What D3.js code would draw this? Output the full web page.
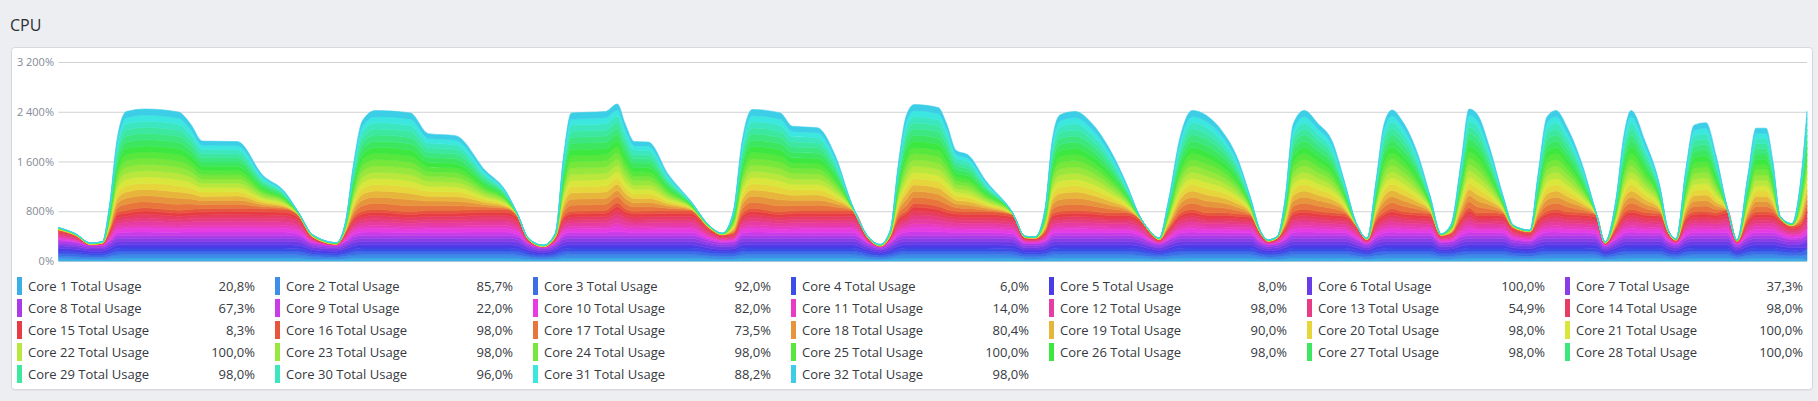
<!DOCTYPE html>
<html>
<head>
<meta charset="utf-8">
<script src="https://cdn.jsdelivr.net/npm/d3@7"></script>
<style>
html, body { margin: 0; padding: 0; background: #edeef1; }
svg { display: block; font-family: "Open Sans", "Noto Sans", sans-serif; }
</style>
</head>
<body>
<svg id="cpu-svg"></svg>
<script>
// sample times (seconds from start of window)
const times = [0,17,32,44,51,59,68,87,120,132,144,179,204,226,240,254,278,287,295,304,317,352,370,397,427,447,459,470,485,497,505,513,547,559,567,576,590,610,632,652,664,675,684,694,722,734,759,777,794,810,822,832,840,848,856,880,888,898,910,927,954,967,977,987,994,1002,1017,1034,1052,1068,1082,1094,1101,1110,1122,1134,1148,1164,1178,1192,1202,1210,1219,1227,1235,1246,1260,1274,1286,1298,1309,1318,1326,1334,1344,1360,1372,1383,1393,1403,1411,1419,1432,1445,1455,1472,1480,1489,1498,1509,1525,1538,1547,1558,1566,1573,1587,1602,1610,1618,1628,1636,1648,1658,1669,1679,1690,1698,1708,1715,1722,1734,1742,1749];

// usage per core, in percent
const core1 = [36,33,27,27,35,47,48,48,48,48,48,48,48,48,46,32,27,34,44,48,48,48,48,48,48,48,45,30,23,31,45,48,48,48,48,48,48,48,48,37,33,34,47,48,48,48,48,48,48,31,24,32,44,48,48,48,48,48,48,48,46,31,31,35,46,48,48,48,48,48,43,33,30,37,47,48,48,48,48,48,34,29,31,38,48,48,48,48,48,39,30,42,47,48,48,48,48,33,34,44,48,48,48,48,38,35,43,48,48,48,48,46,27,38,47,48,48,48,35,30,44,48,48,48,48,29,43,48,48,48,44,39,40,20.8];
const core2 = [43,40,34,34,42,54,55,55,55,55,55,55,55,55,53,39,34,41,51,55,55,55,55,55,55,55,52,37,30,38,52,55,55,55,55,55,55,55,55,44,40,41,54,55,55,55,55,55,55,38,31,39,51,55,55,55,55,55,55,55,53,38,38,42,53,55,55,55,55,55,50,40,37,44,54,55,55,55,55,55,41,36,38,45,55,55,55,55,55,46,37,49,54,55,55,55,55,40,41,51,55,55,55,55,45,42,50,55,55,55,55,53,34,45,54,55,55,55,42,37,51,55,55,55,55,36,50,55,55,55,51,46,47,85.7];
const core3 = [45,42,36,36,44,56,57,57,57,57,57,57,57,57,55,41,36,43,53,57,57,57,57,57,57,57,54,39,32,40,54,57,57,57,57,57,57,57,57,46,42,43,56,57,57,57,57,57,57,40,33,41,53,57,57,57,57,57,57,57,55,40,40,44,55,57,57,57,57,57,52,42,39,46,56,57,57,57,57,57,43,38,40,47,57,57,57,57,57,48,39,51,56,57,57,57,57,42,43,53,57,57,57,57,47,44,52,57,57,57,57,55,36,47,56,57,57,57,44,39,53,57,57,57,57,38,52,57,57,57,53,48,49,92];
const core4 = [38,35,29,29,37,49,50,50,50,50,50,50,50,50,48,34,29,36,46,50,50,50,50,50,50,50,47,32,25,33,47,50,50,50,50,50,50,50,50,39,35,36,49,50,50,50,50,50,50,33,26,34,46,50,50,50,50,50,50,50,48,33,33,37,48,50,50,50,50,50,45,35,32,39,49,50,50,50,50,50,36,31,33,40,50,50,50,50,50,41,32,44,49,50,50,50,50,35,36,46,50,50,50,50,40,37,45,50,50,50,50,48,29,40,49,50,50,50,37,32,46,50,50,50,50,31,45,50,50,50,46,41,42,6];
const core5 = [40,37,31,31,39,51,52,52,52,52,52,52,52,52,50,36,31,38,48,52,52,52,52,52,52,52,49,34,27,35,49,52,52,52,52,52,52,52,52,41,37,38,51,52,52,52,52,52,52,35,28,36,48,52,52,52,52,52,52,52,50,35,35,39,50,52,52,52,52,52,47,37,34,41,51,52,52,52,52,52,38,33,35,42,52,52,52,52,52,43,34,46,51,52,52,52,52,37,38,48,52,52,52,52,42,39,47,52,52,52,52,50,31,42,51,52,52,52,39,34,48,52,52,52,52,33,47,52,52,52,48,43,44,8];
const core6 = [44,41,35,35,43,55,56,56,56,56,56,56,56,56,54,40,35,42,52,56,56,56,56,56,56,56,53,38,31,39,53,56,56,56,56,56,56,56,56,45,41,42,55,56,56,56,56,56,56,39,32,40,52,56,56,56,56,56,56,56,54,39,39,43,54,56,56,56,56,56,51,41,38,45,55,56,56,56,56,56,42,37,39,46,56,56,56,56,56,47,38,50,55,56,56,56,56,41,42,52,56,56,56,56,46,43,51,56,56,56,56,54,35,46,55,56,56,56,43,38,52,56,56,56,56,37,51,56,56,56,52,47,48,100];
const core7 = [37,34,28,28,36,48,49,49,49,49,49,49,49,49,47,33,28,35,45,49,49,49,49,49,49,49,46,31,24,32,46,49,49,49,49,49,49,49,49,38,34,35,48,49,49,49,49,49,49,32,25,33,45,49,49,49,49,49,49,49,47,32,32,36,47,49,49,49,49,49,44,34,31,38,48,49,49,49,49,49,35,30,32,39,49,49,49,49,49,40,31,43,48,49,49,49,49,34,35,45,49,49,49,49,39,36,44,49,49,49,49,47,28,39,48,49,49,49,36,31,45,49,49,49,49,30,44,49,49,49,45,40,41,37.3];
const core8 = [37,34,28,28,36,48,49,49,49,49,49,49,49,49,47,33,28,35,45,49,49,49,49,49,49,49,46,31,24,32,46,49,49,49,49,49,49,49,49,38,34,35,48,49,49,49,49,49,49,32,25,33,45,49,49,49,49,49,49,49,47,32,32,36,47,49,49,49,49,49,44,34,31,38,48,49,49,49,49,49,35,30,32,39,49,49,49,49,49,40,31,43,48,49,49,49,49,34,35,45,49,49,49,49,39,36,44,49,49,49,49,47,28,39,48,49,49,49,36,31,45,49,49,49,49,30,44,49,49,49,45,40,41,67.3];
const core9 = [20,12,0,2,18,44,47,52,47,49,50,51,50,49,39,10,0,17,37,45,49,44,47,47,49,49,39,6,0,10,38,45,47,62,50,45,46,47,47,21,13,15,42,51,44,46,47,47,47,8,0,11,37,45,61,55,49,45,44,44,41,9,8,18,42,45,47,45,42,42,34,13,6,21,42,49,42,42,40,37,16,4,8,23,44,49,45,42,40,26,6,34,44,50,45,42,40,12,15,37,52,42,42,40,23,17,35,45,49,44,42,40,2,23,43,49,42,40,17,5,37,44,45,42,48,4,35,44,44,42,35,25,28,22];
const core10 = [27,19,6,9,25,51,54,59,54,56,57,58,57,56,46,17,7,24,44,52,56,51,54,54,56,56,46,13,5,17,45,52,54,69,57,52,53,54,54,28,20,22,49,58,51,53,54,54,54,15,6,18,44,52,68,62,56,52,51,51,48,16,15,25,49,52,54,52,49,49,41,20,13,28,49,56,49,49,47,44,23,11,15,30,51,56,52,49,47,33,13,41,51,57,52,49,47,19,22,44,59,49,49,47,30,24,42,52,56,51,49,47,9,30,50,56,49,47,24,12,44,51,52,49,55,11,42,51,51,49,42,32,35,82];
const core11 = [19,11,0,1,17,43,46,51,46,48,49,50,49,48,38,9,0,16,36,44,48,43,46,46,48,48,38,5,0,9,37,44,46,61,49,44,45,46,46,20,12,14,41,50,43,45,46,46,46,7,0,10,36,44,60,54,48,44,43,43,40,8,7,17,41,44,46,44,41,41,33,12,5,20,41,48,41,41,39,36,15,3,7,22,43,48,44,41,39,25,5,33,43,49,44,41,39,11,14,36,51,41,41,39,22,16,34,44,48,43,41,39,1,22,42,48,41,39,16,4,36,43,44,41,47,3,34,43,43,41,34,24,27,14];
const core12 = [28,20,7,10,26,52,55,60,55,57,58,59,58,57,47,18,8,25,45,53,57,52,55,55,57,57,47,14,6,18,46,53,55,70,58,53,54,55,55,29,21,23,50,59,52,54,55,55,55,16,7,19,45,53,69,63,57,53,52,52,49,17,16,26,50,53,55,53,50,50,42,21,14,29,50,57,50,50,48,45,24,12,16,31,52,57,53,50,48,34,14,42,52,58,53,50,48,20,23,45,60,50,50,48,31,25,43,53,57,52,50,48,10,31,51,57,50,48,25,13,45,52,53,50,56,12,43,52,52,50,43,33,36,98];
const core13 = [23,15,2,5,21,47,50,55,50,52,53,54,53,52,42,13,3,20,40,48,52,47,50,50,52,52,42,9,1,13,41,48,50,65,53,48,49,50,50,24,16,18,45,54,47,49,50,50,50,11,2,14,40,48,64,58,52,48,47,47,44,12,11,21,45,48,50,48,45,45,37,16,9,24,45,52,45,45,43,40,19,7,11,26,47,52,48,45,43,29,9,37,47,53,48,45,43,15,18,40,55,45,45,43,26,20,38,48,52,47,45,43,5,26,46,52,45,43,20,8,40,47,48,45,51,7,38,47,47,45,38,28,31,54.9];
const core14 = [26,18,5,8,24,50,53,58,53,55,56,57,56,55,45,16,6,23,43,51,55,50,53,53,55,55,45,12,4,16,44,51,53,68,56,51,52,53,53,27,19,21,48,57,50,52,53,53,53,14,5,17,43,51,67,61,55,51,50,50,47,15,14,24,48,51,53,51,48,48,40,19,12,27,48,55,48,48,46,43,22,10,14,29,50,55,51,48,46,32,12,40,50,56,51,48,46,18,21,43,58,48,48,46,29,23,41,51,55,50,48,46,8,29,49,55,48,46,23,11,43,50,51,48,54,10,41,50,50,48,41,31,34,98];
const core15 = [21,13,0,3,19,45,48,53,48,50,51,52,51,50,40,11,1,18,38,46,50,45,48,48,50,50,40,7,0,11,39,46,48,63,51,46,47,48,48,22,14,16,43,52,45,47,48,48,48,9,0,12,38,46,62,56,50,46,45,45,42,10,9,19,43,46,48,46,43,43,35,14,7,22,43,50,43,43,41,38,17,5,9,24,45,50,46,43,41,27,7,35,45,51,46,43,41,13,16,38,53,43,43,41,24,18,36,46,50,45,43,41,3,24,44,50,43,41,18,6,38,45,46,43,49,5,36,45,45,43,36,26,29,8.3];
const core16 = [20,12,0,2,18,44,47,52,47,49,50,51,50,49,39,10,0,17,37,45,49,44,47,47,49,49,39,6,0,10,38,45,47,62,50,45,46,47,47,21,13,15,42,51,44,46,47,47,47,8,0,11,37,45,61,55,49,45,44,44,41,9,8,18,42,45,47,45,42,42,34,13,6,21,42,49,42,42,40,37,16,4,8,23,44,49,45,42,40,26,6,34,44,50,45,42,40,12,15,37,52,42,42,40,23,17,35,45,49,44,42,40,2,23,43,49,42,40,17,5,37,44,45,42,48,4,35,44,44,42,35,25,28,98];
const core17 = [0,0,0,0,23,73,97,97,96,83,65,64,31,15,0,0,0,7,50,88,97,97,74,72,36,16,0,0,0,1,56,96,97,97,82,67,66,33,7,0,0,19,71,97,97,82,80,52,2,0,0,3,50,93,97,97,84,58,54,29,0,0,0,21,71,94,97,85,60,27,0,0,0,24,74,97,95,79,56,16,0,0,0,26,85,97,85,69,31,0,0,37,86,97,88,55,15,0,6,53,97,97,61,15,0,0,42,92,97,82,43,0,0,26,76,97,69,24,0,0,47,84,86,55,0,0,42,81,81,48,0,0,35,73.5];
const core18 = [0,0,0,0,24,74,98,98,97,84,66,65,32,16,1,0,0,8,51,89,98,98,75,73,37,17,0,0,0,2,57,97,98,98,83,68,67,34,8,0,0,20,72,98,98,83,81,53,3,0,0,4,51,94,98,98,85,59,55,30,0,0,0,22,72,95,98,86,61,28,0,0,0,25,75,98,96,80,57,17,0,0,0,27,86,98,86,70,32,0,0,38,87,98,89,56,16,0,7,54,98,98,62,16,0,0,43,93,98,83,44,0,0,27,77,98,70,25,0,0,48,85,87,56,1,0,43,82,82,49,0,0,36,80.4];
const core19 = [2,1,1,1,26,76,100,100,99,86,68,67,34,18,3,2,1,10,53,91,100,100,77,75,39,19,2,1,1,4,59,99,100,100,85,70,69,36,10,2,1,22,74,100,100,85,83,55,5,1,1,6,53,96,100,100,87,61,57,32,2,1,1,24,74,97,100,88,63,30,2,1,1,27,77,100,98,82,59,19,2,1,1,29,88,100,88,72,34,2,1,40,89,100,91,58,18,1,9,56,100,100,64,18,2,1,45,95,100,85,46,2,1,29,79,100,72,27,2,1,50,87,89,58,3,1,45,84,84,51,2,2,38,90];
const core20 = [4,3,3,3,28,78,100,100,100,88,70,69,36,20,5,4,3,12,55,93,100,100,79,77,41,21,4,3,3,6,61,100,100,100,87,72,71,38,12,4,3,24,76,100,100,87,85,57,7,3,3,8,55,98,100,100,89,63,59,34,4,3,3,26,76,99,100,90,65,32,4,3,3,29,79,100,100,84,61,21,4,3,3,31,90,100,90,74,36,4,3,42,91,100,93,60,20,3,11,58,100,100,66,20,4,3,47,97,100,87,48,4,3,31,81,100,74,29,4,3,52,89,91,60,5,3,47,86,86,53,4,4,40,98];
const core21 = [5,4,4,4,29,79,100,100,100,89,71,70,37,21,6,5,4,13,56,94,100,100,80,78,42,22,5,4,4,7,62,100,100,100,88,73,72,39,13,5,4,25,77,100,100,88,86,58,8,4,4,9,56,99,100,100,90,64,60,35,5,4,4,27,77,100,100,91,66,33,5,4,4,30,80,100,100,85,62,22,5,4,4,32,91,100,91,75,37,5,4,43,92,100,94,61,21,4,12,59,100,100,67,21,5,4,48,98,100,88,49,5,4,32,82,100,75,30,5,4,53,90,92,61,6,4,48,87,87,54,5,5,41,100];
const core22 = [3,2,2,2,27,77,100,100,100,87,69,68,35,19,4,3,2,11,54,92,100,100,78,76,40,20,3,2,2,5,60,100,100,100,86,71,70,37,11,3,2,23,75,100,100,86,84,56,6,2,2,7,54,97,100,100,88,62,58,33,3,2,2,25,75,98,100,89,64,31,3,2,2,28,78,100,99,83,60,20,3,2,2,30,89,100,89,73,35,3,2,41,90,100,92,59,19,2,10,57,100,100,65,19,3,2,46,96,100,86,47,3,2,30,80,100,73,28,3,2,51,88,90,59,4,2,46,85,85,52,3,3,39,100];
const core23 = [4,3,3,3,28,78,100,100,100,88,70,69,36,20,5,4,3,12,55,93,100,100,79,77,41,21,4,3,3,6,61,100,100,100,87,72,71,38,12,4,3,24,76,100,100,87,85,57,7,3,3,8,55,98,100,100,89,63,59,34,4,3,3,26,76,99,100,90,65,32,4,3,3,29,79,100,100,84,61,21,4,3,3,31,90,100,90,74,36,4,3,42,91,100,93,60,20,3,11,58,100,100,66,20,4,3,47,97,100,87,48,4,3,31,81,100,74,29,4,3,52,89,91,60,5,3,47,86,86,53,4,4,40,98];
const core24 = [2,1,1,1,26,76,100,100,99,86,68,67,34,18,3,2,1,10,53,91,100,100,77,75,39,19,2,1,1,4,59,99,100,100,85,70,69,36,10,2,1,22,74,100,100,85,83,55,5,1,1,6,53,96,100,100,87,61,57,32,2,1,1,24,74,97,100,88,63,30,2,1,1,27,77,100,98,82,59,19,2,1,1,29,88,100,88,72,34,2,1,40,89,100,91,58,18,1,9,56,100,100,64,18,2,1,45,95,100,85,46,2,1,29,79,100,72,27,2,1,50,87,89,58,3,1,45,84,84,51,2,2,38,98];
const core25 = [3,2,2,2,27,77,100,100,100,87,69,68,35,19,4,3,2,11,54,92,100,100,78,76,40,20,3,2,2,5,60,100,100,100,86,71,70,37,11,3,2,23,75,100,100,86,84,56,6,2,2,7,54,97,100,100,88,62,58,33,3,2,2,25,75,98,100,89,64,31,3,2,2,28,78,100,99,83,60,20,3,2,2,30,89,100,89,73,35,3,2,41,90,100,92,59,19,2,10,57,100,100,65,19,3,2,46,96,100,86,47,3,2,30,80,100,73,28,3,2,51,88,90,59,4,2,46,85,85,52,3,3,39,100];
const core26 = [1,0,0,0,25,75,99,99,98,85,67,66,33,17,2,1,0,9,52,90,99,99,76,74,38,18,1,0,0,3,58,98,99,99,84,69,68,35,9,1,0,21,73,99,99,84,82,54,4,0,0,5,52,95,99,99,86,60,56,31,1,0,0,23,73,96,99,87,62,29,1,0,0,26,76,99,97,81,58,18,1,0,0,28,87,99,87,71,33,1,0,39,88,99,90,57,17,0,8,55,99,99,63,17,1,0,44,94,99,84,45,1,0,28,78,99,71,26,1,0,49,86,88,57,2,0,44,83,83,50,1,1,37,98];
const core27 = [4,3,3,3,28,78,100,100,100,88,70,69,36,20,5,4,3,12,55,93,100,100,79,77,41,21,4,3,3,6,61,100,100,100,87,72,71,38,12,4,3,24,76,100,100,87,85,57,7,3,3,8,55,98,100,100,89,63,59,34,4,3,3,26,76,99,100,90,65,32,4,3,3,29,79,100,100,84,61,21,4,3,3,31,90,100,90,74,36,4,3,42,91,100,93,60,20,3,11,58,100,100,66,20,4,3,47,97,100,87,48,4,3,31,81,100,74,29,4,3,52,89,91,60,5,3,47,86,86,53,4,4,40,98];
const core28 = [2,1,1,1,26,76,100,100,99,86,68,67,34,18,3,2,1,10,53,91,100,100,77,75,39,19,2,1,1,4,59,99,100,100,85,70,69,36,10,2,1,22,74,100,100,85,83,55,5,1,1,6,53,96,100,100,87,61,57,32,2,1,1,24,74,97,100,88,63,30,2,1,1,27,77,100,98,82,59,19,2,1,1,29,88,100,88,72,34,2,1,40,89,100,91,58,18,1,9,56,100,100,64,18,2,1,45,95,100,85,46,2,1,29,79,100,72,27,2,1,50,87,89,58,3,1,45,84,84,51,2,2,38,100];
const core29 = [0,0,0,0,24,74,98,98,97,84,66,65,32,16,1,0,0,8,51,89,98,98,75,73,37,17,0,0,0,2,57,97,98,98,83,68,67,34,8,0,0,20,72,98,98,83,81,53,3,0,0,4,51,94,98,98,85,59,55,30,0,0,0,22,72,95,98,86,61,28,0,0,0,25,75,98,96,80,57,17,0,0,0,27,86,98,86,70,32,0,0,38,87,98,89,56,16,0,7,54,98,98,62,16,0,0,43,93,98,83,44,0,0,27,77,98,70,25,0,0,48,85,87,56,1,0,43,82,82,49,0,0,36,98];
const core30 = [3,2,2,2,27,77,100,100,100,87,69,68,35,19,4,3,2,11,54,92,100,100,78,76,40,20,3,2,2,5,60,100,100,100,86,71,70,37,11,3,2,23,75,100,100,86,84,56,6,2,2,7,54,97,100,100,88,62,58,33,3,2,2,25,75,98,100,89,64,31,3,2,2,28,78,100,99,83,60,20,3,2,2,30,89,100,89,73,35,3,2,41,90,100,92,59,19,2,10,57,100,100,65,19,3,2,46,96,100,86,47,3,2,30,80,100,73,28,3,2,51,88,90,59,4,2,46,85,85,52,3,3,39,96];
const core31 = [0,0,0,0,23,73,97,97,96,83,65,64,31,15,0,0,0,7,50,88,97,97,74,72,36,16,0,0,0,1,56,96,97,97,82,67,66,33,7,0,0,19,71,97,97,82,80,52,2,0,0,3,50,93,97,97,84,58,54,29,0,0,0,21,71,94,97,85,60,27,0,0,0,24,74,97,95,79,56,16,0,0,0,26,85,97,85,69,31,0,0,37,86,97,88,55,15,0,6,53,97,97,61,15,0,0,42,92,97,82,43,0,0,26,76,97,69,24,0,0,47,84,86,55,0,0,42,81,81,48,0,0,35,88.2];
const core32 = [1,0,0,0,25,75,99,99,98,85,67,66,33,17,2,1,0,9,52,90,99,99,76,74,38,18,1,0,0,3,58,98,99,99,84,69,68,35,9,1,0,21,73,99,99,84,82,54,4,0,0,5,52,95,99,99,86,60,56,31,1,0,0,23,73,96,99,87,62,29,1,0,0,26,76,99,97,81,58,18,1,0,0,28,87,99,87,71,33,1,0,39,88,99,90,57,17,0,8,55,99,99,63,17,1,0,44,94,99,84,45,1,0,28,78,99,71,26,1,0,49,86,88,57,2,0,44,83,83,50,1,1,37,98];

const coreNames = ["Core 1 Total Usage","Core 2 Total Usage","Core 3 Total Usage","Core 4 Total Usage","Core 5 Total Usage","Core 6 Total Usage","Core 7 Total Usage","Core 8 Total Usage","Core 9 Total Usage","Core 10 Total Usage","Core 11 Total Usage","Core 12 Total Usage","Core 13 Total Usage","Core 14 Total Usage","Core 15 Total Usage","Core 16 Total Usage","Core 17 Total Usage","Core 18 Total Usage","Core 19 Total Usage","Core 20 Total Usage","Core 21 Total Usage","Core 22 Total Usage","Core 23 Total Usage","Core 24 Total Usage","Core 25 Total Usage","Core 26 Total Usage","Core 27 Total Usage","Core 28 Total Usage","Core 29 Total Usage","Core 30 Total Usage","Core 31 Total Usage","Core 32 Total Usage"];

const yTicks = [0, 800, 1600, 2400, 3200];

const series = [core1,core2,core3,core4,core5,core6,core7,core8,core9,core10,core11,core12,core13,core14,core15,core16,
                core17,core18,core19,core20,core21,core22,core23,core24,core25,core26,core27,core28,core29,core30,core31,core32];

series.forEach((s, i) => {
    if (s.length !== times.length) throw new Error("core" + (i + 1) + " has " + s.length + " values, expected " + times.length);
});

const width = 1818, height = 401;
const plot = { left: 58.5, right: 1807, top: 62, bottom: 261 };

const svg = d3.select("#cpu-svg")
    .attr("width", width)
    .attr("height", height);

// panel title
svg.append("text")
    .attr("x", 10)
    .attr("y", 31)
    .attr("fill", "#2c2f34")
    .style("font-size", "16px")
    .text("CPU");

// card
svg.append("rect")
    .attr("x", 11.5).attr("y", 48.5)
    .attr("width", 1801).attr("height", 342)
    .attr("rx", 3)
    .attr("fill", "#d9dbde");
svg.append("rect")
    .attr("x", 11.5).attr("y", 47.5)
    .attr("width", 1801).attr("height", 342)
    .attr("rx", 3)
    .attr("fill", "#fff")
    .attr("stroke", "#d6d8db");

const locale = d3.formatLocale({ decimal: ",", thousands: " ", grouping: [3], currency: ["", ""] });
const tickFmt = locale.format(",");
const valFmt = locale.format(".1f");

const x = d3.scaleLinear()
    .domain(d3.extent(times))
    .range([plot.left, plot.right]);

const y = d3.scaleLinear()
    .domain([0, 3200])
    .range([plot.bottom, plot.top]);

const color = i => d3.hsl(200 + i * 360 / 32, 0.78, 0.57).formatHex();

// grid + y labels
const yAxis = svg.append("g")
    .attr("transform", `translate(${plot.left},0)`)
    .call(d3.axisLeft(y)
        .tickValues(yTicks)
        .tickSize(-(plot.right - plot.left))
        .tickPadding(4.5)
        .tickFormat(d => tickFmt(d) + "%"));
yAxis.select(".domain").remove();
yAxis.selectAll(".tick line").attr("stroke", "#cfd1d4");
yAxis.selectAll(".tick text")
    .attr("fill", "#858b96")
    .style("font-size", "11px")
    .style("font-family", "'Open Sans', 'Noto Sans', sans-serif");

// stacked areas
const rows = times.map((t, i) => {
    const r = { t: t };
    coreNames.forEach((name, k) => { r[name] = series[k][i]; });
    return r;
});

const stacked = d3.stack().keys(coreNames)(rows);

const area = d3.area()
    .curve(d3.curveMonotoneX)
    .x(d => x(d.data.t))
    .y0(d => y(d[0]))
    .y1(d => y(d[1]));

// a thin stroke in the fill colour hides the seams between bands
svg.append("g")
    .selectAll("path")
    .data(stacked)
    .join("path")
    .attr("fill", (d, i) => color(i))
    .attr("stroke", (d, i) => color(i))
    .attr("stroke-width", 0.6)
    .attr("stroke-linejoin", "round")
    .attr("d", area);

// legend: last value of every core
const legend = svg.append("g")
    .selectAll("g")
    .data(coreNames)
    .join("g")
    .attr("transform", (d, i) => `translate(${17 + (i % 7) * 258},${286 + Math.floor(i / 7) * 22})`);

legend.append("rect")
    .attr("x", 0).attr("y", -9)
    .attr("width", 5).attr("height", 18)
    .attr("fill", (d, i) => color(i));

legend.append("text")
    .attr("x", 11)
    .attr("dy", "0.35em")
    .attr("fill", "#36393e")
    .style("font-size", "13px")
    .text(d => d);

legend.append("text")
    .attr("x", 238)
    .attr("dy", "0.35em")
    .attr("text-anchor", "end")
    .attr("fill", "#36393e")
    .style("font-size", "13px")
    .text((d, i) => valFmt(series[i][series[i].length - 1]) + "%");
</script>
</body>
</html>
